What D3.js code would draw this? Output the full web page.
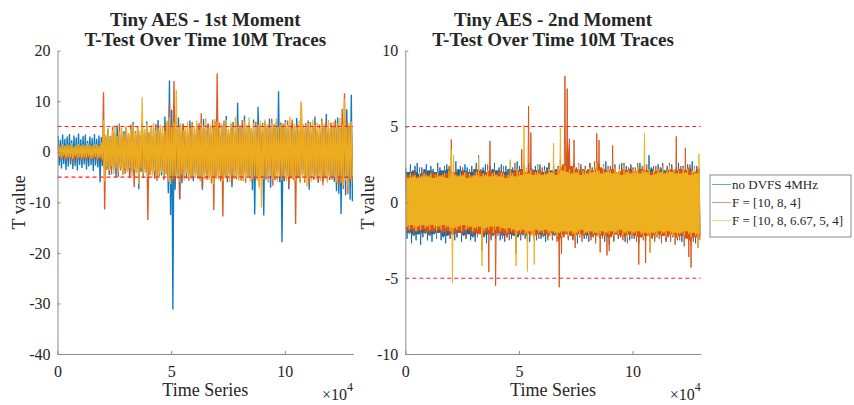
<!DOCTYPE html>
<html>
<head>
<meta charset="utf-8">
<script src="https://cdn.jsdelivr.net/npm/d3@7"></script>
<style>
  body { margin: 0; background: #fff; }
  svg { display: block; }
  text { font-family: "Liberation Serif", "Times New Roman", serif; fill: #262626; }
</style>
</head>
<body>
<svg id="fig" width="854" height="405"></svg>
<script>
// Each trace is stored as per-bin extremes: one bin = 1000 time samples,
// hi[i] / lo[i] are the largest / smallest T value inside bin i.
const BIN = 1000;
const seriesNames = ["no DVFS 4MHz", "F = [10, 8, 4]", "F = [10, 8, 6.67, 5, 4]"];
const seriesColors = ["#0072BD", "#D95319", "#EDB120"];
const xTickValues = [0, 50000, 100000];
const xTickLabels = ["0", "5", "10"];
const m1Ticks = [-40, -30, -20, -10, 0, 10, 20];
const m2Ticks = [-10, -5, 0, 5, 10];
const threshold = 5;

// ---- 1st moment ----
const m1BlueHi = [
  3.1, 2.4, 3.4, 2.6, 3.0, 3.5, 2.3, 3.2, 2.8, 3.6,
  2.5, 3.1, 3.4, 2.2, 3.0, 2.7, 3.5, 2.6, 3.2, 2.9,
  3.4, 2.8, 4.6, 3.1, 3.9, 2.6, 5.2, 3.3, 2.9, 4.1,
  4.8, 3.0, 3.6, 5.9, 2.7, 4.3, 3.2, 5.0, 3.5, 6.0,
  3.8, 2.9, 4.7, 3.4, 6.3, 4.0, 3.1, 7.0, 4.4, 14.1,
  8.3, 5.6, 3.9, 6.8, 3.6, 5.4, 4.1, 3.2, 6.2, 4.5,
  3.6, 5.3, 4.8, 3.3, 6.5, 4.2, 5.6, 3.5, 4.9, 6.1,
  4.3, 3.4, 5.2, 3.9, 7.1, 3.6, 4.8, 5.9, 3.7, 9.7,
  5.1, 4.2, 7.2, 3.5, 5.0, 4.6, 6.4, 3.8, 8.9, 5.3,
  3.9, 6.0, 4.4, 6.6, 3.6, 5.4, 4.7, 12.0, 5.8, 4.1,
  6.3, 4.5, 3.6, 5.6, 4.8, 6.7, 3.9, 5.5, 4.6, 3.8,
  6.2, 4.2, 5.1, 7.0, 4.0, 3.6, 6.0, 4.8, 7.5, 4.3,
  5.4, 3.9, 6.1, 6.8, 4.5, 5.6, 4.9, 8.4, 5.1, 11.3
];
const m1BlueLo = [
  -2.7, -3.3, -2.4, -3.6, -2.9, -2.5, -3.4, -2.8, -3.7, -2.6,
  -3.2, -2.5, -3.5, -2.9, -2.6, -3.8, -2.7, -3.1, -6.0, -2.8,
  -3.8, -3.2, -4.6, -3.5, -2.9, -5.0, -3.7, -3.1, -4.4, -3.6,
  -3.3, -5.1, -3.9, -4.5, -3.2, -7.4, -4.0, -4.6, -3.5, -5.4,
  -4.2, -3.7, -5.0, -5.7, -3.8, -4.7, -5.3, -4.1, -8.2, -12.5,
  -31.2, -7.5, -4.8, -9.4, -6.2, -4.5, -5.3, -4.0, -5.1, -5.8,
  -4.5, -3.9, -5.6, -7.5, -4.3, -5.2, -4.1, -4.9, -5.5, -4.7,
  -4.0, -5.4, -4.6, -4.2, -6.0, -4.5, -7.0, -4.1, -5.0, -5.3,
  -4.4, -5.7, -4.1, -4.9, -5.2, -7.6, -12.4, -4.7, -5.4, -5.1,
  -12.6, -5.5, -4.6, -7.1, -5.0, -5.6, -4.2, -6.0, -17.9, -5.8,
  -4.8, -7.4, -5.2, -4.5, -5.7, -5.1, -6.0, -4.4, -5.3, -4.7,
  -7.5, -5.0, -5.5, -4.3, -6.1, -4.6, -5.8, -5.2, -4.9, -5.6,
  -5.1, -5.9, -7.8, -8.3, -12.3, -6.2, -8.6, -5.4, -9.5, -9.8
];
const m1OrangeHi = [
  1.2, 0.9, 1.4, 1.0, 1.3, 1.1, 1.5, 0.9, 1.2, 1.4,
  1.0, 1.3, 1.1, 1.5, 1.2, 1.0, 1.4, 1.3, 1.1, 1.6,
  11.8, 3.0, 4.2, 2.7, 5.0, 3.4, 2.9, 5.6, 3.8, 3.2,
  4.6, 3.5, 5.4, 3.0, 4.1, 4.9, 3.3, 6.0, 3.9, 4.5,
  3.6, 5.2, 3.1, 5.5, 4.0, 4.4, 3.7, 5.1, 6.0, 9.5,
  5.4, 14.0, 6.6, 4.8, 4.2, 5.6, 4.4, 4.0, 5.2, 5.9,
  4.5, 3.8, 5.7, 7.6, 4.6, 4.3, 5.4, 4.9, 6.4, 5.2,
  15.5, 5.8, 4.7, 6.2, 4.4, 4.1, 5.5, 5.0, 4.3, 5.8,
  4.6, 6.3, 4.2, 5.1, 5.6, 4.4, 4.0, 6.0, 4.8, 5.3,
  5.7, 4.3, 5.0, 5.4, 6.6, 4.7, 5.9, 4.4, 5.2, 5.6,
  4.8, 6.2, 4.5, 6.4, 5.0, 5.5, 4.2, 9.8, 4.9, 5.7,
  4.4, 5.9, 5.1, 5.6, 4.3, 5.4, 6.6, 4.8, 6.0, 4.6,
  5.8, 5.0, 6.4, 5.5, 4.7, 8.5, 11.6, 5.7, 5.1, 5.4
];
const m1OrangeLo = [
  -1.3, -1.6, -1.1, -1.8, -1.2, -1.5, -2.4, -1.3, -1.7, -1.2,
  -1.6, -1.4, -2.0, -1.2, -1.5, -1.7, -1.3, -1.9, -1.4, -2.2,
  -11.4, -3.6, -3.0, -4.5, -3.4, -2.9, -5.0, -3.7, -3.2, -4.4,
  -3.8, -4.7, -3.3, -7.0, -4.0, -4.6, -3.5, -5.2, -4.1, -13.5,
  -4.6, -4.0, -5.4, -4.2, -4.9, -3.7, -5.6, -4.4, -5.1, -5.8,
  -4.7, -6.2, -4.4, -9.4, -5.5, -4.9, -4.3, -5.7, -4.6, -5.2,
  -4.3, -5.4, -4.8, -7.2, -4.5, -5.6, -5.0, -6.2, -11.5, -5.3,
  -4.7, -5.8, -12.8, -5.1, -5.4, -4.6, -6.4, -4.9, -5.5, -4.4,
  -5.7, -4.8, -6.1, -4.5, -5.2, -5.9, -4.7, -5.4, -6.6, -5.0,
  -5.6, -4.9, -6.0, -4.4, -6.7, -5.3, -5.5, -4.8, -5.8, -5.1,
  -5.4, -6.9, -4.7, -5.6, -14.3, -5.2, -5.8, -4.5, -6.1, -4.9,
  -6.3, -5.0, -5.5, -4.7, -6.0, -5.3, -6.6, -4.8, -5.7, -5.2,
  -5.4, -4.9, -6.2, -6.8, -5.6, -7.4, -5.3, -8.4, -5.9, -5.5
];
const m1YellowHi = [
  1.4, 1.1, 1.6, 1.2, 1.5, 1.3, 1.7, 1.1, 1.4, 1.6,
  1.2, 1.5, 1.3, 1.7, 1.4, 1.2, 1.6, 1.5, 1.3, 1.8,
  6.3, 3.4, 4.6, 3.0, 4.3, 5.2, 3.1, 4.0, 4.8, 3.5,
  5.1, 3.7, 4.4, 5.5, 3.8, 4.7, 4.2, 10.8, 4.5, 5.6,
  4.0, 4.9, 5.7, 4.3, 4.6, 5.4, 5.0, 4.1, 6.2, 6.9,
  5.2, 5.8, 12.2, 4.9, 5.6, 4.3, 5.1, 6.0, 4.7, 5.4,
  4.9, 6.2, 4.4, 5.6, 5.1, 6.7, 4.8, 5.4, 4.6, 6.5,
  6.0, 4.7, 5.6, 5.2, 6.3, 4.5, 5.8, 5.1, 6.9, 4.9,
  5.4, 4.8, 6.1, 5.3, 6.8, 4.6, 5.7, 5.0, 5.4, 6.2,
  4.9, 6.4, 5.5, 4.7, 5.8, 5.2, 6.6, 5.0, 5.4, 4.8,
  5.9, 5.3, 7.0, 4.6, 5.6, 5.1, 6.2, 10.0, 5.5, 5.2,
  5.7, 4.9, 6.4, 5.3, 5.8, 4.7, 6.1, 5.5, 5.0, 6.3,
  5.2, 5.9, 4.8, 5.6, 6.7, 5.4, 10.5, 5.1, 5.8, 6.0
];
const m1YellowLo = [
  -0.9, -1.2, -0.8, -1.3, -1.0, -1.1, -1.4, -0.9, -1.2, -1.0,
  -1.3, -1.0, -1.2, -0.9, -1.4, -1.1, -1.0, -1.3, -1.1, -1.5,
  -5.8, -3.1, -3.8, -2.8, -4.4, -3.3, -4.0, -3.0, -4.7, -3.4,
  -4.1, -3.2, -4.9, -3.6, -4.3, -6.4, -3.3, -4.5, -3.9, -5.0,
  -4.2, -4.7, -3.8, -5.5, -4.4, -4.1, -5.2, -4.6, -5.9, -6.4,
  -5.4, -4.8, -5.3, -6.0, -4.6, -5.7, -4.4, -5.1, -5.5, -4.9,
  -5.2, -4.6, -5.9, -5.0, -5.4, -4.8, -5.6, -5.3, -6.4, -5.1,
  -5.5, -4.7, -5.8, -5.2, -4.9, -6.0, -4.6, -5.4, -5.1, -5.7,
  -5.0, -5.6, -5.3, -4.8, -5.9, -5.4, -5.2, -5.7, -7.2, -11.0,
  -5.4, -5.1, -5.8, -4.7, -5.5, -5.3, -6.0, -4.9, -5.6, -5.2,
  -5.8, -5.0, -5.4, -5.3, -5.7, -4.9, -6.2, -5.1, -5.5, -6.9,
  -5.3, -5.9, -5.0, -5.6, -5.2, -5.8, -4.7, -5.4, -6.1, -5.1,
  -5.6, -5.2, -5.9, -5.4, -6.2, -6.6, -5.7, -7.0, -5.4, -5.3
];

// ---- 2nd moment ----
const m2BlueHi = [
  2.3, 2.0, 2.5, 2.1, 2.4, 2.6, 1.9, 2.3, 2.2, 2.5,
  2.1, 2.4, 2.2, 2.0, 2.6, 2.3, 2.1, 2.4, 2.5, 2.2,
  2.4, 2.0, 2.7, 2.2, 2.4, 2.1, 2.5, 2.3, 2.0, 2.4,
  2.2, 2.6, 3.1, 2.1, 2.3, 2.5, 2.0, 2.4, 2.2, 2.6,
  2.1, 2.3, 2.5, 2.0, 2.4, 2.2, 2.8, 2.3, 2.1, 2.7,
  2.4, 2.2, 2.5, 2.0, 2.6, 2.3, 2.1, 2.4, 2.2, 2.5,
  2.0, 2.4, 2.3, 2.6, 2.1, 2.5, 2.2, 2.4, 2.0, 2.3,
  2.5, 2.1, 2.4, 2.2, 2.6, 2.3, 2.0, 2.5, 2.2, 2.4,
  2.1, 2.6, 2.3, 2.0, 2.4, 2.5, 2.2, 2.3, 2.7, 2.1,
  2.4, 2.2, 2.5, 2.0, 2.3, 2.6, 2.1, 2.4, 2.2, 2.5,
  2.3, 2.0, 2.4, 2.6, 2.2, 2.5, 2.1, 3.1, 2.3, 2.4,
  2.0, 2.5, 2.3, 2.6, 2.1, 2.4, 2.2, 2.5, 2.0, 2.3,
  2.6, 2.2, 2.4, 2.1, 2.5, 2.3, 2.7, 2.0, 2.4, 2.2
];
const m2BlueLo = [
  -2.4, -2.0, -2.7, -2.2, -2.5, -2.1, -2.8, -2.3, -2.0, -2.5,
  -2.2, -2.6, -2.1, -2.4, -2.0, -2.5, -2.3, -2.7, -2.2, -2.4,
  -2.1, -2.5, -2.3, -2.0, -2.6, -2.2, -2.4, -2.1, -2.5, -2.3,
  -2.6, -2.2, -2.0, -2.4, -2.3, -2.7, -2.1, -2.5, -2.2, -2.4,
  -2.0, -2.5, -2.2, -2.6, -2.3, -2.1, -2.4, -2.2, -2.7, -2.3,
  -2.5, -2.1, -2.4, -2.2, -2.6, -2.0, -2.3, -2.5, -2.1, -2.4,
  -2.2, -2.6, -2.3, -2.0, -2.5, -2.2, -2.4, -2.1, -2.6, -2.3,
  -2.0, -2.4, -2.2, -2.5, -2.1, -2.7, -2.3, -2.0, -2.4, -2.2,
  -2.6, -2.3, -2.1, -2.5, -2.2, -2.4, -2.0, -2.6, -2.3, -2.8,
  -2.2, -2.5, -2.1, -2.4, -2.3, -2.0, -2.6, -2.2, -2.5, -2.1,
  -2.4, -2.2, -2.7, -2.3, -2.0, -2.5, -2.2, -2.6, -2.1, -2.4,
  -2.3, -2.0, -2.5, -2.2, -2.6, -2.1, -2.4, -2.3, -2.0, -2.5,
  -2.2, -2.6, -2.1, -2.4, -2.3, -2.5, -2.0, -2.7, -2.4, -2.2
];
const m2OrangeHi = [
  2.0, 1.8, 2.2, 1.9, 2.1, 1.7, 2.3, 1.9, 2.0, 2.2,
  1.8, 2.1, 2.0, 1.9, 2.2, 1.8, 2.0, 2.3, 1.9, 2.4,
  4.15, 2.0, 2.2, 1.8, 2.1, 2.3, 1.9, 2.0, 2.2, 1.8,
  2.1, 2.4, 2.0, 2.2, 1.9, 2.1, 2.5, 4.05, 2.0, 2.3,
  1.9, 2.2, 2.0, 2.4, 1.8, 2.1, 2.3, 2.0, 2.6, 2.2,
  2.1, 3.5, 2.4, 2.0, 6.35, 4.6, 2.2, 2.0, 2.5, 2.1,
  2.3, 1.9, 2.2, 2.6, 2.0, 2.4, 2.1, 2.3, 2.8, 2.5,
  8.33, 7.5, 4.2, 2.4, 4.1, 2.2, 2.6, 2.3, 2.0, 2.4,
  2.2, 2.5, 2.1, 2.7, 4.55, 4.1, 2.3, 2.5, 2.1, 2.4,
  2.2, 3.75, 2.3, 2.0, 2.5, 2.2, 2.6, 2.1, 2.3, 2.4,
  2.0, 2.3, 2.6, 2.2, 2.4, 2.1, 2.5, 2.2, 2.0, 2.3,
  2.4, 2.1, 2.3, 2.5, 2.0, 2.2, 2.6, 2.3, 2.1, 4.35,
  2.2, 2.4, 2.1, 3.6, 2.3, 2.5, 2.0, 2.4, 2.2, 2.3
];
const m2OrangeLo = [
  -1.9, -2.1, -1.8, -2.2, -2.0, -1.9, -2.3, -1.8, -2.1, -2.0,
  -2.2, -1.9, -2.0, -2.3, -1.8, -2.1, -2.0, -2.2, -1.9, -2.4,
  -2.1, -2.0, -2.3, -1.9, -2.2, -2.0, -2.4, -1.8, -2.1, -2.2,
  -2.0, -2.3, -2.1, -3.2, -2.2, -2.0, -4.6, -2.3, -2.1, -5.5,
  -2.2, -2.0, -2.4, -2.1, -2.3, -2.5, -2.0, -2.2, -3.4, -2.1,
  -2.4, -2.2, -2.0, -2.6, -2.3, -2.1, -2.5, -2.2, -2.4, -2.0,
  -2.3, -2.1, -2.5, -2.2, -2.4, -2.0, -2.6, -5.6, -3.4, -2.3,
  -2.1, -2.5, -2.2, -2.4, -3.0, -2.3, -2.1, -2.6, -2.2, -2.4,
  -2.0, -2.5, -2.3, -2.7, -2.1, -3.3, -2.4, -2.2, -3.5, -3.2,
  -2.3, -2.6, -2.1, -2.4, -2.2, -2.5, -2.3, -2.7, -2.1, -2.4,
  -2.2, -2.6, -4.1, -2.3, -2.5, -4.0, -2.2, -3.3, -2.4, -2.6,
  -2.1, -2.4, -2.7, -2.2, -2.5, -2.3, -2.6, -2.1, -2.8, -2.4,
  -2.5, -2.2, -2.9, -2.4, -3.6, -4.3, -2.6, -2.3, -3.0, -2.5
];
const m2YellowHi = [
  1.8, 1.6, 1.9, 1.7, 1.8, 1.6, 2.0, 1.7, 1.9, 1.8,
  1.7, 1.9, 1.6, 1.8, 2.0, 1.7, 1.8, 1.9, 1.6, 2.1,
  3.5, 3.1, 1.8, 1.7, 1.9, 1.8, 2.0, 1.6, 1.9, 1.7,
  1.8, 2.0, 3.0, 1.7, 1.9, 1.8, 2.1, 1.7, 1.9, 2.0,
  1.8, 1.7, 2.0, 1.9, 1.6, 1.8, 2.8, 1.9, 1.7, 2.2,
  2.0, 1.8, 5.1, 2.3, 1.9, 2.1, 1.8, 2.0, 2.4, 1.9,
  1.8, 2.1, 1.9, 2.2, 2.0, 3.9, 1.8, 2.3, 4.9, 2.1,
  2.4, 2.0, 2.2, 1.9, 2.3, 2.0, 2.5, 1.8, 2.1, 2.2,
  1.9, 2.3, 2.0, 2.2, 2.6, 2.1, 1.9, 2.4, 2.0, 2.2,
  2.1, 1.9, 2.3, 2.0, 2.2, 1.8, 2.4, 2.0, 2.1, 1.9,
  2.2, 2.0, 2.3, 1.9, 2.1, 4.55, 2.0, 2.2, 1.8, 2.1,
  1.9, 2.2, 2.0, 2.3, 1.9, 2.1, 2.4, 2.0, 2.2, 1.9,
  2.1, 1.9, 2.3, 2.0, 2.2, 1.8, 2.1, 2.3, 1.9, 3.2
];
const m2YellowLo = [
  -1.6, -1.8, -1.5, -1.7, -1.9, -1.6, -1.8, -1.5, -1.7, -1.6,
  -1.8, -1.5, -1.7, -1.9, -1.6, -1.8, -1.5, -1.7, -1.6, -1.9,
  -5.3, -1.7, -1.8, -1.6, -1.9, -1.5, -1.8, -1.7, -1.6, -1.9,
  -1.7, -1.8, -1.6, -4.2, -1.9, -1.7, -1.8, -1.6, -2.0, -1.8,
  -1.6, -1.9, -1.7, -1.8, -2.0, -1.7, -1.9, -1.8, -4.2, -1.9,
  -2.0, -1.8, -2.1, -4.55, -1.9, -2.2, -4.1, -1.8, -2.0, -1.9,
  -2.1, -1.8, -2.0, -2.2, -1.9, -2.1, -2.3, -2.0, -2.2, -1.9,
  -2.0, -2.2, -1.9, -2.1, -2.3, -2.0, -2.2, -1.8, -2.1, -2.0,
  -2.2, -1.9, -2.1, -2.0, -2.3, -2.1, -1.9, -2.2, -2.0, -2.1,
  -1.9, -2.2, -2.0, -2.1, -1.8, -2.2, -2.0, -2.3, -1.9, -2.1,
  -2.0, -2.2, -1.9, -2.1, -2.3, -2.0, -2.2, -3.3, -2.0, -2.1,
  -2.2, -1.9, -2.1, -2.0, -2.3, -1.9, -2.1, -2.2, -2.0, -2.3,
  -2.1, -2.0, -2.2, -1.9, -2.1, -2.3, -2.0, -2.2, -3.0, -2.1
];

const panels = [
  {
    title: ["Tiny AES - 1st Moment", "T-Test Over Time 10M Traces"],
    left: 57.5, right: 353, yDomain: [-40, 20], yTicks: m1Ticks, ylabelX: 25, dense: false,
    traces: [[m1BlueHi, m1BlueLo], [m1OrangeHi, m1OrangeLo], [m1YellowHi, m1YellowLo]]
  },
  {
    title: ["Tiny AES - 2nd Moment", "T-Test Over Time 10M Traces"],
    left: 405.3, right: 700.7, yDomain: [-10, 10], yTicks: m2Ticks, ylabelX: 374, dense: true,
    traces: [[m2BlueHi, m2BlueLo], [m2OrangeHi, m2OrangeLo], [m2YellowHi, m2YellowLo]]
  }
];
const plotTop = 50.7, plotBottom = 354;
const axisColor = "#8a8a8a";
const serif = "Liberation Serif, Times New Roman, serif";

const svg = d3.select("#fig");

// expand bin extremes into a zig-zag trace (max then min within each bin)
function traceRows(hi, lo) {
  const rows = [];
  hi.forEach((h, i) => {
    rows.push([i * BIN + 250, h]);
    rows.push([i * BIN + 750, lo[i]]);
  });
  return rows;
}
// solid body of a trace: the envelope without isolated single-bin spikes
function coreRows(hi, lo) {
  const n = hi.length;
  return hi.map((h, i) => {
    const a = Math.max(0, i - 1), b = Math.min(n - 1, i + 1);
    return [i * BIN + 500,
      Math.min(hi[a], h, hi[b]),
      Math.max(lo[a], lo[i], lo[b])];
  });
}

panels.forEach((p, k) => {
  const x = d3.scaleLinear().domain([0, 130000]).range([p.left, p.right]);
  const y = d3.scaleLinear().domain(p.yDomain).range([plotBottom, plotTop]);
  const g = svg.append("g");

  const clipId = "clip" + k;
  svg.append("clipPath").attr("id", clipId).append("rect")
    .attr("x", p.left).attr("y", plotTop).attr("width", p.right - p.left).attr("height", plotBottom - plotTop);

  const line = d3.line().x(d => x(d[0])).y(d => y(d[1]));
  const area = d3.area().x(d => x(d[0])).y0(d => y(d[2])).y1(d => y(d[1]));
  const dataG = g.append("g").attr("clip-path", `url(#${clipId})`);
  p.traces.forEach((t, s) => {
    if (p.dense) {
      dataG.append("path")
        .attr("d", area(coreRows(t[0], t[1])))
        .attr("fill", seriesColors[s]);
    }
    dataG.append("path")
      .attr("d", line(traceRows(t[0], t[1])))
      .attr("fill", "none")
      .attr("stroke", seriesColors[s])
      .attr("stroke-width", p.dense ? 1.0 : 1.35)
      .attr("stroke-linejoin", "bevel")
      .attr("stroke-opacity", 0.95);
  });

  // threshold lines at +/-5
  [threshold, -threshold].forEach(v => {
    g.append("line")
      .attr("x1", p.left).attr("x2", p.right)
      .attr("y1", y(v)).attr("y2", y(v))
      .attr("stroke", "#ff2020").attr("stroke-width", 1.1)
      .attr("stroke-dasharray", "4,3");
  });

  // axes: ticks point inward, serif labels with plain hyphen minus
  const xAxis = d3.axisBottom(x).tickValues(xTickValues)
    .tickFormat((d, i) => xTickLabels[i]).tickSizeInner(-3).tickSizeOuter(0).tickPadding(8);
  const xg = g.append("g").attr("transform", `translate(0,${plotBottom})`).call(xAxis);
  const yAxis = d3.axisLeft(y).tickValues(p.yTicks).tickFormat(d => String(d))
    .tickSizeInner(-3).tickSizeOuter(0).tickPadding(7);
  const yg = g.append("g").attr("transform", `translate(${p.left},0)`).call(yAxis);
  [xg, yg].forEach(a => {
    a.attr("font-family", serif).attr("font-size", 16);
    a.select(".domain").attr("stroke", axisColor);
    a.selectAll(".tick line").attr("stroke", axisColor);
    a.selectAll(".tick text").attr("fill", "#262626");
  });
  xg.selectAll(".tick text").attr("dy", "0.95em");

  // titles
  const cx = (p.left + p.right) / 2;
  p.title.forEach((t, i) => {
    g.append("text").attr("x", cx).attr("y", 26 + i * 20)
      .attr("text-anchor", "middle").attr("font-size", 19).attr("font-weight", "bold")
      .text(t);
  });

  // axis labels
  g.append("text").attr("x", cx).attr("y", 395.5)
    .attr("text-anchor", "middle").attr("font-size", 18).text("Time Series");
  g.append("text")
    .attr("transform", `translate(${p.ylabelX},${(plotTop + plotBottom) / 2}) rotate(-90)`)
    .attr("text-anchor", "middle").attr("font-size", 18).text("T value");
  const ex = g.append("text").attr("x", p.right).attr("y", 400)
    .attr("text-anchor", "end").attr("font-size", 16);
  ex.append("tspan").text("×10");
  ex.append("tspan").attr("dy", -9).attr("font-size", 12).text("4");
});

// legend
const lg = svg.append("g").attr("transform", "translate(710,175)");
lg.append("rect").attr("x", 0).attr("y", 0).attr("width", 141).attr("height", 62)
  .attr("fill", "#fff").attr("stroke", axisColor).attr("stroke-width", 1);
seriesNames.forEach((name, i) => {
  const yy = 9.5 + i * 18;
  lg.append("line").attr("x1", 2).attr("x2", 21).attr("y1", yy).attr("y2", yy)
    .attr("stroke", seriesColors[i]).attr("stroke-width", 1).attr("stroke-opacity", 0.6);
  lg.append("text").attr("x", 22).attr("y", yy + 4.5).attr("font-size", 13).text(name);
});
</script>
</body>
</html>
